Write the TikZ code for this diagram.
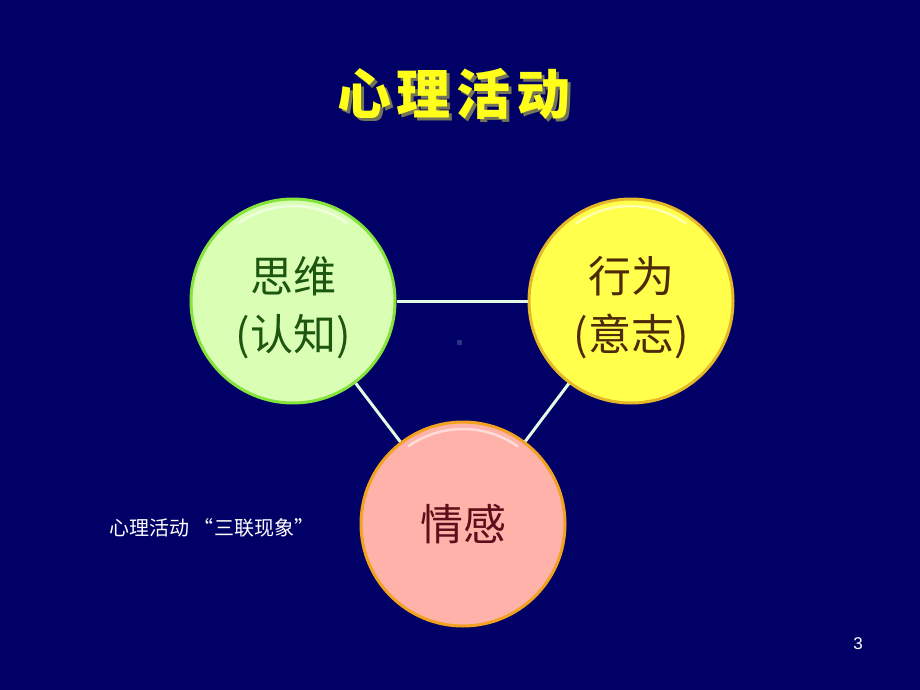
\documentclass[tikz,border=0pt]{standalone}
\usepackage{fontspec}
\setmainfont{Liberation Sans}
\newfontfamily\cjk{Noto Sans CJK SC}
\usetikzlibrary{calc}

\definecolor{slidebg}{HTML}{000066}
\definecolor{linkcol}{HTML}{E4FAE4}
\definecolor{titleyellow}{HTML}{FFFF1A}
\definecolor{titleshade}{HTML}{74745A}
\definecolor{dotcol}{HTML}{2C3480}
\definecolor{greenin}{HTML}{DAFFB4}
\definecolor{greenmid}{HTML}{C8F4A0}
\definecolor{greenrim}{HTML}{8A9C86}
\definecolor{greenline}{HTML}{84E43C}
\definecolor{greentext}{HTML}{1C5610}
\definecolor{yellowin}{HTML}{FFFF4C}
\definecolor{yellowmid}{HTML}{F8EE30}
\definecolor{yellowrim}{HTML}{9C8430}
\definecolor{yellowline}{HTML}{E6B828}
\definecolor{yellowtext}{HTML}{4E2A08}
\definecolor{pinkin}{HTML}{FFB2AA}
\definecolor{pinkmid}{HTML}{F8A8A0}
\definecolor{pinkrim}{HTML}{9C6C6C}
\definecolor{pinkline}{HTML}{F2A21E}
\definecolor{pinktext}{HTML}{5C0E1A}

\pgfdeclareradialshading{greenglass}{\pgfpoint{0bp}{0bp}}{color(0bp)=(greenin); color(36bp)=(greenin); color(45bp)=(greenmid); color(49bp)=(greenrim); color(50bp)=(greenrim)}
\pgfdeclareradialshading{yellowglass}{\pgfpoint{0bp}{0bp}}{color(0bp)=(yellowin); color(36bp)=(yellowin); color(45bp)=(yellowmid); color(49bp)=(yellowrim); color(50bp)=(yellowrim)}
\pgfdeclareradialshading{pinkglass}{\pgfpoint{0bp}{0bp}}{color(0bp)=(pinkin); color(36bp)=(pinkin); color(45bp)=(pinkmid); color(49bp)=(pinkrim); color(50bp)=(pinkrim)}

\newcommand\firstline{\rule{0pt}{49pt}}

\tikzset{
  glass/.style={circle,minimum size=204pt,inner sep=0pt,shading=#1,line width=3pt,align=center,
    font=\cjk\fontsize{43}{58}\selectfont},
  link/.style={draw=linkcol,line width=3pt},
  gloss/.style={white,opacity=0.55,line width=2.5pt,line cap=round},
  titlefont/.style={font=\cjk\bfseries\fontsize{54}{58}\selectfont}
}

\begin{document}
\begin{tikzpicture}[x=1pt,y=-1pt]
  \fill[slidebg] (0,0) rectangle (920,690);
  \useasboundingbox (0,0) rectangle (920,690);

  \node[titlefont,text=titleshade] (titleshadow) at (457,97)
    {心\hspace{6pt}理\hspace{6pt}活\hspace{6pt}动};
  \node[titlefont,text=titleyellow] (title) at (454,94)
    {心\hspace{6pt}理\hspace{6pt}活\hspace{6pt}动};

  \node[glass=greenglass,draw=greenline,text=greentext] (think) at (293,301) {\firstline 思维\\(认知)};
  \node[glass=yellowglass,draw=yellowline,text=yellowtext] (act) at (631,301) {\firstline 行为\\(意志)};
  \node[glass=pinkglass,draw=pinkline,text=pinktext] (feel) at (463,524) {情感};

  \draw[gloss] ($(think)+(235:95)$) arc[start angle=235,end angle=305,radius=95];
  \draw[gloss] ($(act)+(235:95)$) arc[start angle=235,end angle=305,radius=95];
  \draw[gloss] ($(feel)+(235:95)$) arc[start angle=235,end angle=305,radius=95];

  \draw[link] (think) -- (act);
  \draw[link] (think) -- (feel);
  \draw[link] (act) -- (feel);

  \fill[dotcol] (457,340) rectangle (462,345);

  \node[anchor=west,text=white,font=\cjk\fontsize{20}{24}\selectfont] (caption) at (106,528)
    {心理活动 “三联现象”};
  \node[text=white,font=\fontsize{17}{20}\selectfont] (pagenum) at (858,644) {3};
\end{tikzpicture}
\end{document}
